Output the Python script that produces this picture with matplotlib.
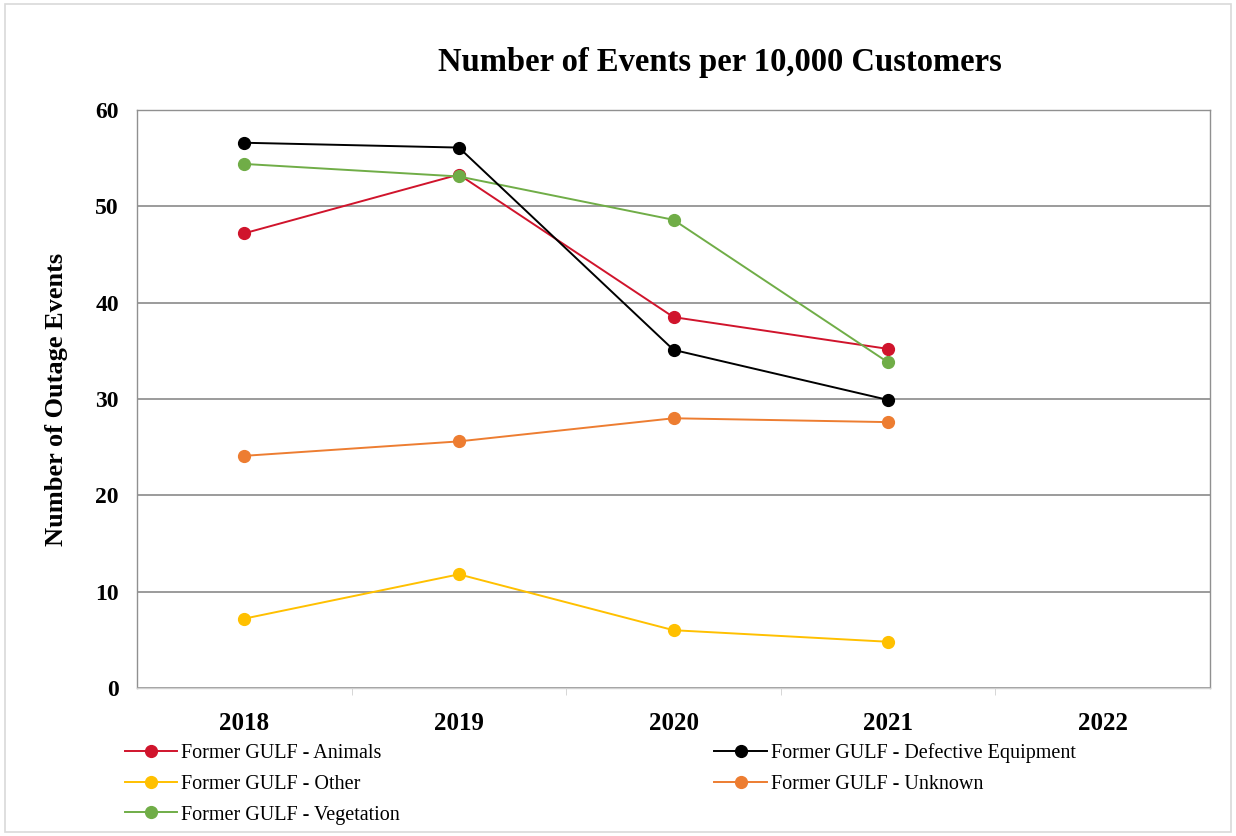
import numpy as np
import matplotlib
matplotlib.use("Agg")
import matplotlib.pyplot as plt
from matplotlib.patches import Rectangle

years = ["2018", "2019", "2020", "2021", "2022"]

animals = [47.2, 53.3, 38.5, 35.2]
defective = [56.6, 56.1, 35.1, 29.9]
other = [7.2, 11.8, 6.0, 4.8]
unknown = [24.1, 25.6, 28.0, 27.6]
vegetation = [54.4, 53.1, 48.6, 33.8]

plt.rcParams['font.family'] = ['Liberation Serif', 'DejaVu Serif']

fig = plt.figure(figsize=(12.36, 8.36), dpi=100)
ax = fig.add_axes([137 / 1236, 1 - 688 / 836, (1210 - 137) / 1236, (688 - 110) / 836])

x = np.arange(len(animals))
series = [
    ("Former GULF - Animals", animals, "#D0142C"),
    ("Former GULF - Other", other, "#FFC000"),
    ("Former GULF - Vegetation", vegetation, "#70AD47"),
    ("Former GULF - Defective Equipment", defective, "#000000"),
    ("Former GULF - Unknown", unknown, "#ED7D31"),
]
handles = []
for name, vals, col in series:
    h, = ax.plot(x, vals, color=col, lw=1.4, marker='o', markersize=8.5,
                 label=name, zorder=3)
    handles.append(h)

ax.set_xlim(-0.5, len(years) - 0.5)
ax.set_ylim(0, 60)
ax.set_yticks(range(0, 61, 10))
ax.set_xticks(range(len(years)))
ax.set_xticklabels(years)
ax.set_xticks(np.arange(0.5, len(years) - 0.5, 1), minor=True)
ax.tick_params(axis='x', which='major', length=0, pad=17, labelsize=18)
ax.tick_params(axis='x', which='minor', length=5, color='#d0d0d0')
ax.tick_params(axis='y', length=0, pad=13, labelsize=17)
for lab in ax.get_xticklabels() + ax.get_yticklabels():
    lab.set_fontweight('bold')

ax.grid(axis='y', color='#808080', lw=1.1)
ax.set_axisbelow(True)
for s in ax.spines.values():
    s.set_color('#909090')
    s.set_linewidth(1.0)
ax.spines['bottom'].set_color('#d0d0d0')

ax.set_ylabel("Number of Outage Events", fontsize=19, fontweight='bold', labelpad=20)
fig.text(720 / 1236, 1 - 62 / 836, "Number of Events per 10,000 Customers",
         ha='center', va='center', fontsize=23.5, fontweight='bold')

fig.legend(handles=handles, labels=[s[0] for s in series], ncol=2,
           loc='upper left', bbox_to_anchor=(117 / 1236, 1 - 735 / 836),
           frameon=False, fontsize=14.5, handlelength=2.6, handletextpad=0.2,
           columnspacing=15.6, labelspacing=0.58, borderaxespad=0)

fig.patches.append(Rectangle((5 / 1236, 4 / 836), 1226 / 1236, 828 / 836,
                             transform=fig.transFigure, fill=False,
                             edgecolor='#d9d9d9', lw=1.2))

fig.savefig("out.png", dpi=100)
